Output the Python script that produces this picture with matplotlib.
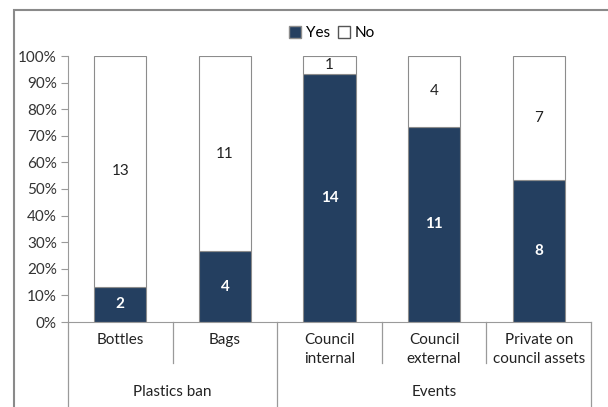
import matplotlib.pyplot as plt
from matplotlib.patches import Patch, Rectangle
from matplotlib.lines import Line2D
import matplotlib.transforms as mtransforms
import numpy as np

plt.rcParams['font.family'] = ['Lato', 'DejaVu Sans']

categories = ['Bottles', 'Bags', 'Council\ninternal', 'Council\nexternal',
              'Private on\ncouncil assets']
groups = ['Plastics ban', 'Events']
group_sizes = [2, 3]
yes_counts = [2, 4, 14, 11, 8]
no_counts = [13, 11, 1, 4, 7]
yticks = [0, 10, 20, 30, 40, 50, 60, 70, 80, 90, 100]

navy = '#243F60'
edge = '#8c8c8c'
axis_grey = '#9a9a9a'
fs = 11

yes = np.array(yes_counts, dtype=float)
no = np.array(no_counts, dtype=float)
total = yes + no
yes_pct = yes / total * 100
no_pct = no / total * 100
x = np.arange(len(categories))

fig = plt.figure(figsize=(6.08, 4.07), dpi=100)
ax = fig.add_axes([68 / 608, 1 - 322 / 407, 523 / 608, 266 / 407])

ax.bar(x, yes_pct, width=0.5, color=navy, edgecolor=edge, linewidth=0.8)
ax.bar(x, no_pct, width=0.5, bottom=yes_pct, color='white', edgecolor=edge, linewidth=0.8)

for i in range(len(x)):
    ax.text(x[i], yes_pct[i] / 2, str(yes_counts[i]), ha='center', va='center',
            color='white', fontsize=fs, fontweight='bold')
    ax.text(x[i], yes_pct[i] + no_pct[i] / 2, str(no_counts[i]), ha='center', va='center',
            color='#222222', fontsize=fs)

ax.set_xlim(-0.5, len(x) - 0.5)
ax.set_ylim(0, 100)
ax.set_yticks(yticks)
ax.set_yticklabels(['%d%%' % t for t in yticks], fontsize=fs, color='#333333')
ax.set_xticks([])
ax.tick_params(axis='y', direction='out', length=5, color=axis_grey, pad=3)
for s in ['top', 'right']:
    ax.spines[s].set_visible(False)
ax.spines['left'].set_color(axis_grey)
ax.spines['bottom'].set_color(axis_grey)

# category and group labels below the axis
trans = mtransforms.blended_transform_factory(ax.transData, ax.transAxes)
for i, cat in enumerate(categories):
    ax.text(x[i], -0.04, cat, transform=trans, ha='center', va='top',
            fontsize=fs, color='#222222', linespacing=1.45)

start = 0
for g, n in zip(groups, group_sizes):
    mid = start + (n - 1) / 2
    ax.text(mid, -0.235, g, transform=trans, ha='center', va='top',
            fontsize=fs, color='#222222')
    start += n

# separators
group_edges = [-0.5]
for n in group_sizes:
    group_edges.append(group_edges[-1] + n)
for b in np.arange(-0.5, len(x), 1.0):
    bottom = -0.33 if b in group_edges else -0.155
    ax.add_line(Line2D([b, b], [0, bottom], transform=trans, color=axis_grey,
                       linewidth=0.9, clip_on=False))

# legend
handles = [Patch(facecolor=navy, edgecolor=edge, label='Yes'),
           Patch(facecolor='white', edgecolor='#555555', label='No')]
fig.legend(handles=handles, loc='center', bbox_to_anchor=(332 / 608, 1 - 33 / 407),
           ncol=2, frameon=False, fontsize=fs, handlelength=0.8, handleheight=0.8,
           handletextpad=0.3, columnspacing=0.5)

# chart area border
fig.add_artist(Rectangle((14 / 608, -0.1), 1.2, 1 - 10 / 407 + 0.1,
                         transform=fig.transFigure, fill=False,
                         edgecolor='#8a8a8a', linewidth=1.5))

fig.savefig('out.png', dpi=100)
